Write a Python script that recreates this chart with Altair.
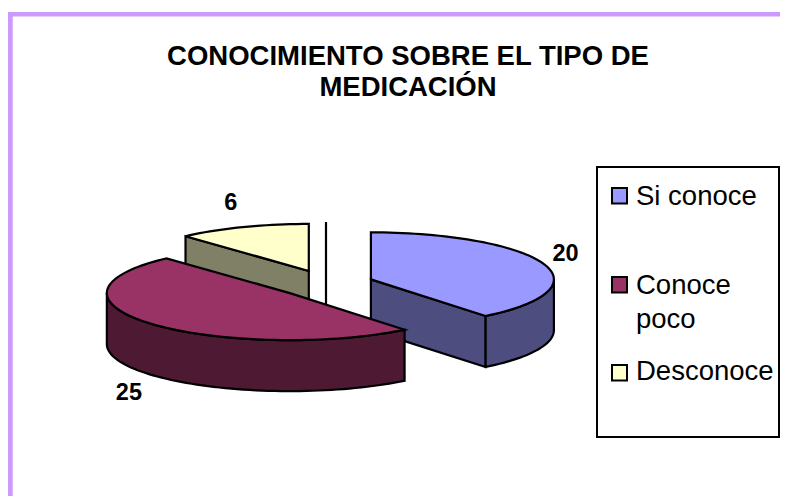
import math
import altair as alt
import pandas as pd

# ---- chart values ----
categories = ["Si conoce", "Conoce poco", "Desconoce"]
values = [20, 25, 6]
top_colors = ["#9999FF", "#993366", "#FFFFCC"]
wall_colors = ["#4D4D80", "#4D1933", "#808066"]
legend_lines = [["Si conoce"], ["Conoce", "poco"], ["Desconoce"]]
title_lines = ["CONOCIMIENTO SOBRE EL TIPO DE", "MEDICACIÓN"]

# ---- layout (page pixels) ----
OX, OY = 8, 8
W, H = 772, 488
RIGHT = OX + W
CX, CY = 326, 284          # centre of the un-exploded pie
A, B = 183, 47             # ellipse radii
DEPTH = 51
EXPLODE_X, EXPLODE_Y = 47.6, 14
FRAME = "#CC99FF"


def P(x, y):
    return [x - OX, y - OY]


def poly(points, fill, stroke="black"):
    ring = [P(x, y) for x, y in points]
    ring.append(ring[0])
    return {
        "type": "Feature",
        "properties": {"fill": fill, "stroke": stroke},
        "geometry": {"type": "Polygon", "coordinates": [ring]},
    }


def arc(cx, cy, a0, a1, dy=0):
    n = max(2, int(abs(a1 - a0) / 2) + 1)
    out = []
    for i in range(n + 1):
        t = math.radians(a0 + (a1 - a0) * i / n)
        out.append((cx + A * math.sin(t), cy + dy - B * math.cos(t)))
    return out


total = sum(values)
slices = []
start = 0.0
for v in values:
    span = 360.0 * v / total
    mid = math.radians(start + span / 2)
    slices.append({
        "a0": start,
        "a1": start + span,
        "cx": CX + EXPLODE_X * math.sin(mid),
        "cy": CY - EXPLODE_Y * math.cos(mid),
    })
    start += span

si, mar, yel = slices

back = []
# Desconoce: inner wall, then top
yx, yy = yel["cx"], yel["cy"]
rim = arc(yx, yy, yel["a0"], yel["a0"])[0]
back.append(poly([rim, (yx, yy), (yx, yy + DEPTH), (rim[0], rim[1] + DEPTH)], wall_colors[2]))
back.append(poly([(yx, yy)] + arc(yx, yy, yel["a0"], yel["a1"]), top_colors[2]))
# Si conoce: inner wall, outer wall, top
sx, sy = si["cx"], si["cy"]
rim = arc(sx, sy, si["a1"], si["a1"])[0]
back.append(poly([(sx, sy), rim, (rim[0], rim[1] + DEPTH), (sx, sy + DEPTH)], wall_colors[0]))
back.append(poly(arc(sx, sy, 90, si["a1"]) + arc(sx, sy, si["a1"], 90, DEPTH), wall_colors[0]))
back.append(poly([(sx, sy)] + arc(sx, sy, si["a0"], si["a1"]), top_colors[0]))

# Conoce poco: outer wall, top (in front of everything)
mx, my = mar["cx"], mar["cy"]
front = [
    poly(arc(mx, my, mar["a0"], 270) + arc(mx, my, 270, mar["a0"], DEPTH), wall_colors[1]),
    poly([(mx, my)] + arc(mx, my, mar["a0"], mar["a1"]), top_colors[1]),
]

# frame and legend
frame = [
    poly([(8, 12), (RIGHT, 12), (RIGHT, 16.5), (8, 16.5)], FRAME, "none"),
    poly([(8, 12), (12.7, 12), (12.7, H + OY), (8, H + OY)], FRAME, "none"),
]
legend = [poly([(597, 167), (RIGHT - 1, 167), (RIGHT - 1, 437), (597, 437)], "#FFFFFF")]
square_tops = [188, 277, 365]
for top, col in zip(square_tops, top_colors):
    legend.append(poly([(612, top), (627, top), (627, top + 15.5), (612, top + 15.5)], col))

# centre line left behind by the exploded slices
centre_line = {
    "type": "Feature",
    "properties": {},
    "geometry": {"type": "LineString", "coordinates": [P(CX, 222), P(CX, 312)]},
}

texts = []
for line, y in zip(title_lines, [57, 88]):
    texts.append({"t": line, "x": 408, "y": y, "size": 27.5, "w": "bold", "al": "center"})
# data labels: rim point of each slice plus a small offset
offsets = [(22, -10), (-22, 18), (-12, -24)]
for s, v, (dx, dy) in zip(slices, values, offsets):
    mid = (s["a0"] + s["a1"]) / 2
    px, py = arc(s["cx"], s["cy"], mid, mid)[0]
    extra = DEPTH if 90 < mid < 270 else 0
    texts.append({"t": str(v), "x": px + dx, "y": py + dy + extra, "size": 23.5, "w": "bold", "al": "center"})
legend_ys = [[197], [286, 320], [372]]
for lines, ys in zip(legend_lines, legend_ys):
    for line, y in zip(lines, ys):
        texts.append({"t": line, "x": 636, "y": y, "size": 27.5, "w": "normal", "al": "left"})
df = pd.DataFrame(texts)
df["lon"] = df["x"] - OX
df["lat"] = df["y"] - OY

proj = dict(type="identity", scale=1, translate=[0, 0])


def shapes(features, width=2.2):
    return (
        alt.Chart(alt.InlineData(values={"type": "FeatureCollection", "features": features},
                                 format=alt.DataFormat(type="json", property="features")))
        .mark_geoshape(strokeWidth=width, strokeJoin="miter")
        .encode(
            fill=alt.Fill("properties.fill:N", scale=None, legend=None),
            stroke=alt.Stroke("properties.stroke:N", scale=None, legend=None),
        )
        .project(**proj)
    )


line_layer = (
    alt.Chart(alt.InlineData(values={"type": "FeatureCollection", "features": [centre_line]},
                             format=alt.DataFormat(type="json", property="features")))
    .mark_geoshape(filled=False, stroke="black", strokeWidth=2.2)
    .project(**proj)
)


def text_layer(sub):
    return (
        alt.Chart(sub)
        .mark_text(font="Liberation Sans", color="black", baseline="middle",
                   align=sub["al"].iloc[0], fontWeight=sub["w"].iloc[0], fontSize=float(sub["size"].iloc[0]))
        .encode(longitude="lon:Q", latitude="lat:Q", text="t:N")
        .project(**proj)
    )


bold = df[df["w"] == "bold"]
chart = alt.layer(
    shapes(frame),
    shapes(back),
    line_layer,
    shapes(front),
    shapes(legend, 2),
    text_layer(bold[bold["size"] == 27.5]),
    text_layer(bold[bold["size"] == 23.5]),
    text_layer(df[df["w"] == "normal"]),
).properties(width=W, height=H, padding=0, background="white").configure_view(stroke=None)

chart.save("out.html", embed_options={"renderer": "svg", "actions": False})
